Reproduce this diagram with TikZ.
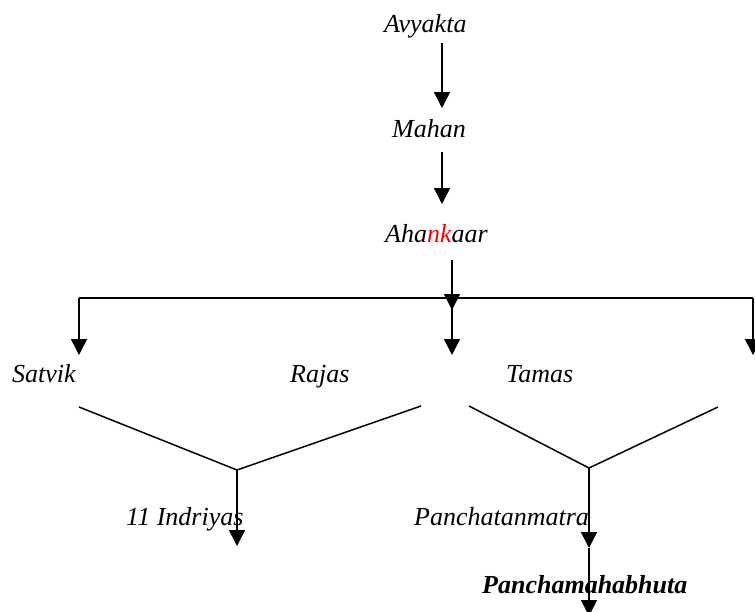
\documentclass[tikz,border=0pt]{standalone}
\usepackage{fontspec}
\setmainfont{Liberation Serif}
\usetikzlibrary{arrows.meta}
\begin{document}
\begin{tikzpicture}[x=1pt,y=-1pt,
  lbl/.style={anchor=base west,inner sep=0pt,font=\fontsize{26}{30}\selectfont\itshape},
  conn/.style={line width=1.5pt},
  arr/.style={conn,-{Triangle[length=16pt,width=16pt]}}]
\useasboundingbox (0,0) rectangle (755,611);
% texts
\node[lbl] (avy) at (384,32) {Avyakta};
\node[lbl] (mah) at (392,137) {Mahan};
\node[lbl] (aha) at (385,242) {Aha\textcolor{red}{nk}aar};
\node[lbl] (sat) at (12,382) {Satvik};
\node[lbl] (raj) at (290,382) {Rajas};
\node[lbl] (tam) at (506,382) {Tamas};
\node[lbl] (ind) at (126,525) {11 Indriyas};
\node[lbl] (pan) at (414,525) {Panchatanmatra};
\node[lbl,font=\fontsize{26}{30}\selectfont\bfseries\itshape] (pmb) at (482,593) {Panchamahabhuta};
% coordinates
\coordinate (a1s) at (442,43);
\coordinate (a1e) at (442,108);
\coordinate (a2s) at (442,152);
\coordinate (a2e) at (442,204);
\coordinate (a3s) at (452,260);
\coordinate (a3e) at (452,310);
\coordinate (hl) at (79,298);
\coordinate (hm) at (452,298);
\coordinate (hr) at (753,298);
\coordinate (dl) at (79,355);
\coordinate (dm) at (452,355);
\coordinate (dr) at (753,355);
\coordinate (v1a) at (79,407);
\coordinate (v1j) at (237,470);
\coordinate (v1b) at (421,406);
\coordinate (v1e) at (237,546);
\coordinate (v2a) at (469,406);
\coordinate (v2j) at (589,468);
\coordinate (v2b) at (718,407);
\coordinate (v2e) at (589,548);
\coordinate (v3e) at (589,616);
% connectors
\draw[arr] (a1s) -- (a1e);
\draw[arr] (a2s) -- (a2e);
\draw[arr] (a3s) -- (a3e);
\draw[conn] (hl) -- (hr);
\draw[arr] (hl) -- (dl);
\draw[arr] (hm) -- (dm);
\draw[arr] (hr) -- (dr);
\draw[conn] (v1a) -- (v1j) -- (v1b);
\draw[arr] (v1j) -- (v1e);
\draw[conn] (v2a) -- (v2j) -- (v2b);
\draw[arr] (v2j) -- (v2e);
\draw[arr] (v2e) -- (v3e);
\end{tikzpicture}
\end{document}
